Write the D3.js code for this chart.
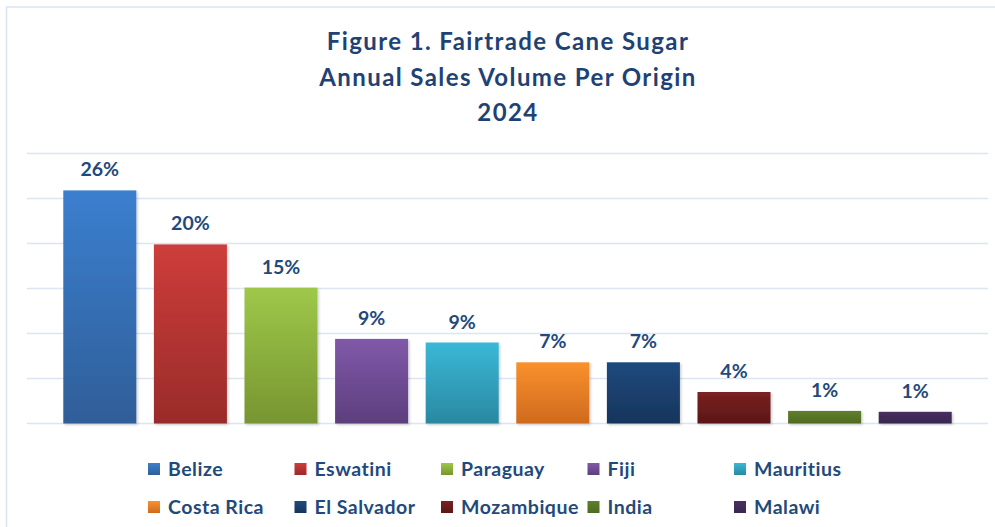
<!DOCTYPE html>
<html>
<head>
<meta charset="utf-8">
<script src="https://cdn.jsdelivr.net/npm/d3@7"></script>
<style>
  body { margin: 0; background: #fff; }
</style>
</head>
<body>
<div id="chart"></div>
<script>
const origins = ["Belize", "Eswatini", "Paraguay", "Fiji", "Mauritius", "Costa Rica", "El Salvador", "Mozambique", "India", "Malawi"]
const shares = [25.9, 19.9, 15.1, 9.4, 9.0, 6.8, 6.8, 3.5, 1.4, 1.3]
const topColors = ["#3b7fcf", "#cd3d3a", "#9ec84a", "#8059a9", "#3ab8d8", "#fa912d", "#1f4a7e", "#7b2121", "#5f802b", "#47305f"]
const bottomColors = ["#2f5e98", "#9a2b2a", "#779530", "#5d3e7d", "#2a88a0", "#cf6a1e", "#17355c", "#5b1616", "#4e6a22", "#3a2650"]
const yTicks = [0, 5, 10, 15, 20, 25, 30]
const titleLines = ["Figure 1. Fairtrade Cane Sugar", "Annual Sales Volume Per Origin", "2024"]

const data = origins.map((o, i) => ({origin: o, value: shares[i], top: topColors[i], bottom: bottomColors[i]}))

const width = 995
const height = 527
const textColor = "#1f4a7c"
const font = "Lato, 'Open Sans', sans-serif"

const svg = d3.select("#chart")
    .append("svg")
    .attr("width", width)
    .attr("height", height)

const defs = svg.append("defs")
data.forEach((d, i) => {
    const g = defs.append("linearGradient")
        .attr("id", "grad" + i)
        .attr("x1", 0).attr("y1", 0).attr("x2", 0).attr("y2", 1)
    g.append("stop").attr("offset", "0%").attr("stop-color", d.top)
    g.append("stop").attr("offset", "100%").attr("stop-color", d.bottom)
})
const shadow = defs.append("filter").attr("id", "shadow")
    .attr("x", "-10%").attr("y", "-10%").attr("width", "130%").attr("height", "130%")
shadow.append("feDropShadow")
    .attr("dx", 1.5).attr("dy", 1.5).attr("stdDeviation", 1.2)
    .attr("flood-color", "#000").attr("flood-opacity", 0.18)

// outer frame
svg.append("rect")
    .attr("x", 6.5).attr("y", 7)
    .attr("width", width + 10).attr("height", height + 10)
    .attr("fill", "#fff")
    .attr("stroke", "#d9e4f2")
    .attr("stroke-width", 1.5)

const x = d3.scaleBand()
    .domain(origins)
    .range([54.5, 960.5])
    .paddingInner(0.194)
    .paddingOuter(0.097)

const y = d3.scaleLinear()
    .domain([0, 30])
    .range([423.5, 153.5])

// gridlines
svg.append("g")
    .selectAll("line")
    .data(yTicks)
    .join("line")
    .attr("x1", 27).attr("x2", 988)
    .attr("y1", d => y(d)).attr("y2", d => y(d))
    .attr("stroke", "#dce6f3")
    .attr("stroke-width", 1.6)

// bars
svg.append("g")
    .selectAll("rect")
    .data(data)
    .join("rect")
    .attr("x", d => x(d.origin))
    .attr("width", x.bandwidth())
    .attr("y", d => y(d.value))
    .attr("height", d => y(0) - y(d.value))
    .attr("fill", (d, i) => `url(#grad${i})`)
    .attr("filter", "url(#shadow)")

// value labels
const pct = d3.format(".0%")
svg.append("g")
    .selectAll("text")
    .data(data)
    .join("text")
    .attr("x", d => x(d.origin) + x.bandwidth() / 2)
    .attr("y", d => y(d.value) - 14)
    .attr("text-anchor", "middle")
    .style("font-family", font)
    .style("font-weight", "bold")
    .style("font-size", "19.5px")
    .attr("fill", textColor)
    .text(d => pct(d.value / 100))

// title
svg.append("g")
    .selectAll("text")
    .data(titleLines)
    .join("text")
    .attr("x", 508)
    .attr("y", (d, i) => 50 + i * 35.5)
    .attr("text-anchor", "middle")
    .style("font-family", font)
    .style("font-weight", "bold")
    .style("font-size", "24px")
    .style("letter-spacing", "1.4px")
    .attr("fill", "#1f4275")
    .text(d => d)

// legend
const legend = svg.append("g")
    .selectAll("g")
    .data(data)
    .join("g")
    .attr("transform", (d, i) => `translate(${148 + (i % 5) * 146.5},${i < 5 ? 463 : 501})`)
legend.append("rect")
    .attr("width", 12).attr("height", 12)
    .attr("fill", (d, i) => `url(#grad${i})`)
legend.append("text")
    .attr("x", 20)
    .attr("y", 12.5)
    .style("font-family", font)
    .style("font-weight", "bold")
    .style("font-size", "19.5px")
    .style("letter-spacing", "0.5px")
    .attr("fill", textColor)
    .text(d => d.origin)
</script>
</body>
</html>
